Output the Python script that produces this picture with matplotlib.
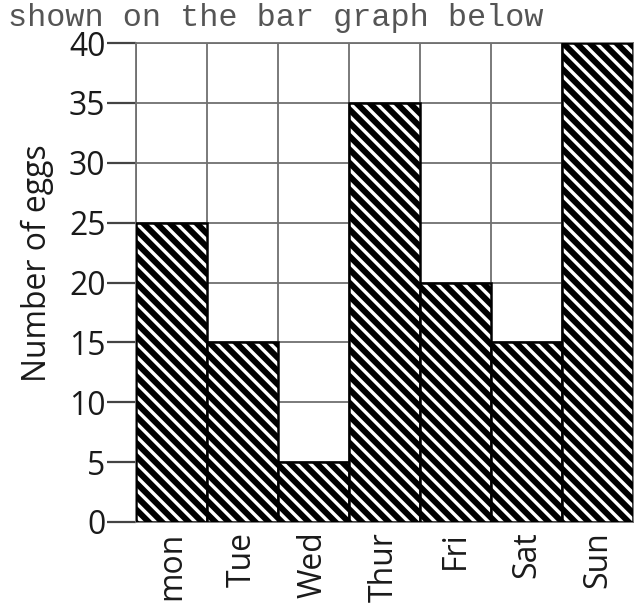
import numpy as np
import matplotlib.pyplot as plt

days = ["mon", "Tue", "Wed", "Thur", "Fri", "Sat", "Sun"]
eggs = [25, 15, 5, 35, 20, 15, 40]
y_ticks = [0, 5, 10, 15, 20, 25, 30, 35, 40]

# render at 120 dpi so the hatch tile (1 inch) gets the stripe spacing of the original
DPI = 120
S = 100 / DPI  # sizes below are written for 100 dpi

plt.rcParams["hatch.linewidth"] = 3.6
plt.rcParams["hatch.color"] = "black"

fig = plt.figure(figsize=(634 / DPI, 609 / DPI), dpi=DPI)
ax = fig.add_axes([136 / 634, 87 / 609, 497 / 634, 479 / 609])

x = np.arange(len(days))
ax.bar(x, eggs, width=1.0, color="white", edgecolor="black",
       linewidth=1.8 * S, hatch="\\\\\\", zorder=3)

ax.set_xlim(-0.5, len(days) - 0.5)
ax.set_ylim(0, 40)

# grid: horizontal every 5, vertical at the bar boundaries
ax.set_yticks(y_ticks)
ax.set_xticks(x)
ax.set_xticks(np.arange(-0.5, len(days), 1.0), minor=True)
ax.grid(True, which="major", axis="y", color="#707070", linewidth=1.3 * S, zorder=0)
ax.grid(True, which="minor", axis="x", color="#707070", linewidth=1.3 * S, zorder=0)
ax.tick_params(axis="x", which="both", length=0, pad=7 * S)
ax.tick_params(axis="y", length=21 * S, width=1.6 * S, color="#444444", pad=1 * S)

font = "Open Sans"
ax.set_xticklabels(days, rotation=90, fontsize=23 * S, family=font, color="#1a1a1a")
ax.set_yticklabels([str(v) for v in y_ticks], fontsize=23 * S, family=font, color="#1a1a1a")
ax.set_ylabel("Number of eggs", fontsize=23 * S, family=font, color="#1a1a1a")
ax.yaxis.set_label_coords(-0.165, 0.54)

for s in ax.spines.values():
    s.set_color("#707070")
    s.set_linewidth(1.3 * S)

fig.text(8 / 634, 1 - 26 / 609, "shown on the bar graph below", family="Liberation Mono",
         fontsize=23 * S, color="#555555", va="baseline", ha="left")

fig.savefig("out.png", dpi=DPI)
